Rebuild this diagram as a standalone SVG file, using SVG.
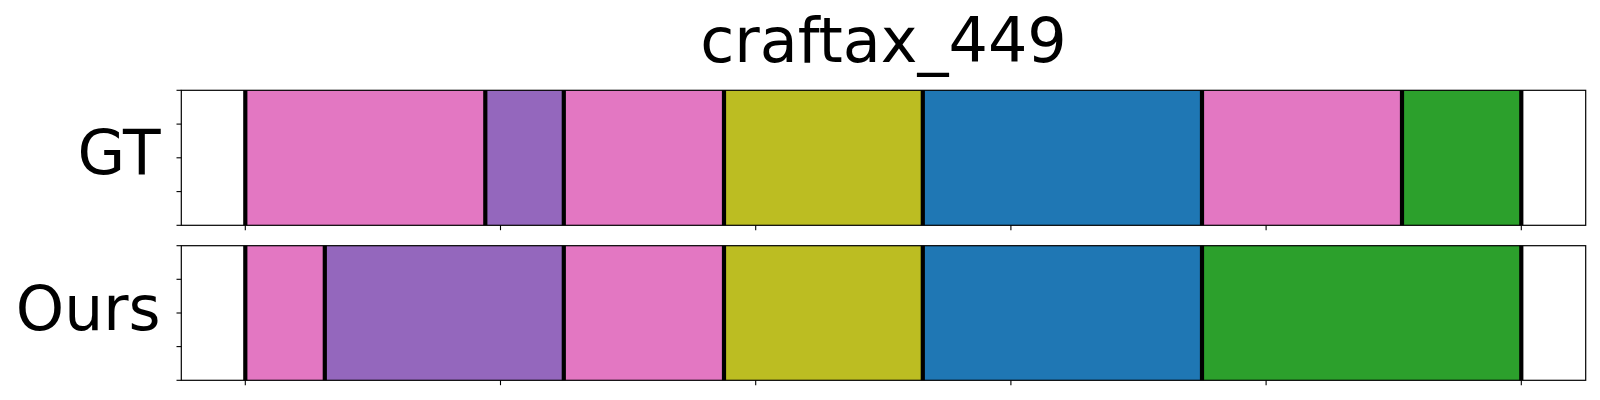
<svg xmlns="http://www.w3.org/2000/svg" width="1600" height="400" viewBox="0 0 1600 400">
<style>
.lbl{font-family:"DejaVu Sans","Liberation Sans",sans-serif;font-size:62px;fill:#000}
.ylbl{font-size:61.5px}
.pink{fill:#e377c2}.purple{fill:#9467bd}.olive{fill:#bcbd22}.blue{fill:#1f77b4}.green{fill:#2ca02c}
.bd{stroke:#000;stroke-width:4.2}
.frame{fill:none;stroke:#000;stroke-width:1.2}
.tick{stroke:#000;stroke-width:1.1}
</style>
<rect width="1600" height="400" fill="#fff"/>
<text class="lbl" x="883.5" y="61.7" text-anchor="middle">craftax_449</text>
<g id="gt">
<text class="lbl ylbl" x="160.5" y="174" text-anchor="end">GT</text>
<g id="gt-segments">
<rect class="pink" x="245.3" y="90.3" width="240" height="135"/>
<rect class="purple" x="485.3" y="90.3" width="78.5" height="135"/>
<rect class="pink" x="563.8" y="90.3" width="160.2" height="135"/>
<rect class="olive" x="724" y="90.3" width="198.8" height="135"/>
<rect class="blue" x="922.8" y="90.3" width="279.2" height="135"/>
<rect class="pink" x="1202" y="90.3" width="200" height="135"/>
<rect class="green" x="1402" y="90.3" width="119.3" height="135"/>
</g>
<g id="gt-boundaries" class="bd">
<line x1="245.3" y1="90.3" x2="245.3" y2="225.3"/>
<line x1="485.3" y1="90.3" x2="485.3" y2="225.3"/>
<line x1="563.8" y1="90.3" x2="563.8" y2="225.3"/>
<line x1="724" y1="90.3" x2="724" y2="225.3"/>
<line x1="922.8" y1="90.3" x2="922.8" y2="225.3"/>
<line x1="1202" y1="90.3" x2="1202" y2="225.3"/>
<line x1="1402" y1="90.3" x2="1402" y2="225.3"/>
<line x1="1521.3" y1="90.3" x2="1521.3" y2="225.3"/>
</g>
<rect class="frame" x="181.3" y="90.3" width="1404.4" height="135"/>
<g class="tick">
<line x1="176.5" y1="90.3" x2="181.3" y2="90.3"/>
<line x1="176.5" y1="124.1" x2="181.3" y2="124.1"/>
<line x1="176.5" y1="157.8" x2="181.3" y2="157.8"/>
<line x1="176.5" y1="191.6" x2="181.3" y2="191.6"/>
<line x1="176.5" y1="225.3" x2="181.3" y2="225.3"/>
<line x1="245.3" y1="225.3" x2="245.3" y2="230.2"/>
<line x1="500.5" y1="225.3" x2="500.5" y2="230.2"/>
<line x1="755.7" y1="225.3" x2="755.7" y2="230.2"/>
<line x1="1010.9" y1="225.3" x2="1010.9" y2="230.2"/>
<line x1="1266.1" y1="225.3" x2="1266.1" y2="230.2"/>
<line x1="1521.3" y1="225.3" x2="1521.3" y2="230.2"/>
</g>
</g>
<g id="ours">
<text class="lbl ylbl" x="160.5" y="329.5" text-anchor="end">Ours</text>
<g id="ours-segments">
<rect class="pink" x="245.3" y="245.7" width="79.5" height="134.6"/>
<rect class="purple" x="324.8" y="245.7" width="239" height="134.6"/>
<rect class="pink" x="563.8" y="245.7" width="160.2" height="134.6"/>
<rect class="olive" x="724" y="245.7" width="198.8" height="134.6"/>
<rect class="blue" x="922.8" y="245.7" width="279.2" height="134.6"/>
<rect class="green" x="1202" y="245.7" width="319.3" height="134.6"/>
</g>
<g id="ours-boundaries" class="bd">
<line x1="245.3" y1="245.7" x2="245.3" y2="380.3"/>
<line x1="324.8" y1="245.7" x2="324.8" y2="380.3"/>
<line x1="563.8" y1="245.7" x2="563.8" y2="380.3"/>
<line x1="724" y1="245.7" x2="724" y2="380.3"/>
<line x1="922.8" y1="245.7" x2="922.8" y2="380.3"/>
<line x1="1202" y1="245.7" x2="1202" y2="380.3"/>
<line x1="1521.3" y1="245.7" x2="1521.3" y2="380.3"/>
</g>
<rect class="frame" x="181.3" y="245.7" width="1404.4" height="134.6"/>
<g class="tick">
<line x1="176.5" y1="245.7" x2="181.3" y2="245.7"/>
<line x1="176.5" y1="279.3" x2="181.3" y2="279.3"/>
<line x1="176.5" y1="313" x2="181.3" y2="313"/>
<line x1="176.5" y1="346.6" x2="181.3" y2="346.6"/>
<line x1="176.5" y1="380.3" x2="181.3" y2="380.3"/>
<line x1="245.3" y1="380.3" x2="245.3" y2="385.2"/>
<line x1="500.5" y1="380.3" x2="500.5" y2="385.2"/>
<line x1="755.7" y1="380.3" x2="755.7" y2="385.2"/>
<line x1="1010.9" y1="380.3" x2="1010.9" y2="385.2"/>
<line x1="1266.1" y1="380.3" x2="1266.1" y2="385.2"/>
<line x1="1521.3" y1="380.3" x2="1521.3" y2="385.2"/>
</g>
</g>
</svg>
